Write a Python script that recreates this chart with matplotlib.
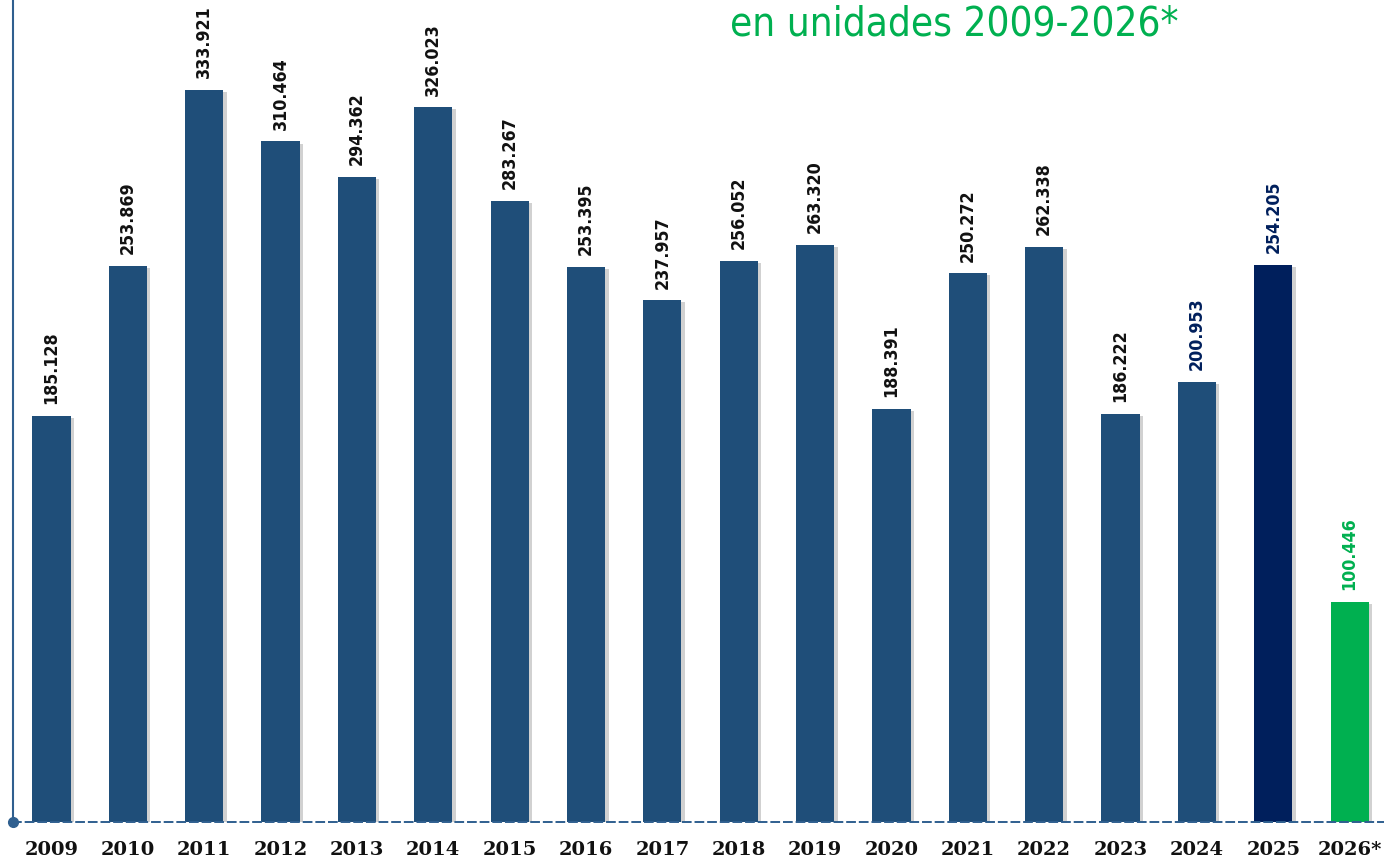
import matplotlib.pyplot as plt
import matplotlib.patheffects as pe

years = ["2009", "2010", "2011", "2012", "2013", "2014", "2015", "2016", "2017",
         "2018", "2019", "2020", "2021", "2022", "2023", "2024", "2025", "2026*"]
units = [185128, 253869, 333921, 310464, 294362, 326023, 283267, 253395, 237957,
         256052, 263320, 188391, 250272, 262338, 186222, 200953, 254205, 100446]

BAR = "#1F4E79"
NAVY = "#001F5C"
GREEN = "#00B050"
LINE = "#2F5F8F"

bar_colors = [BAR] * 16 + [NAVY, GREEN]
label_colors = ["#111111"] * 15 + [NAVY, NAVY, GREEN]

fig = plt.figure(figsize=(13.84, 8.61), dpi=100)
ax = fig.add_axes([12.5 / 1384, 39 / 861, 1371.5 / 1384, 822 / 861])

x = list(range(len(years)))
shadow = [pe.SimplePatchShadow(offset=(2.5, -1.5), shadow_rgbFace="#999999", alpha=0.45),
          pe.Normal()]
bars = ax.bar(x, units, width=0.5, color=bar_colors, zorder=2)
for b in bars:
    b.set_path_effects(shadow)

for xi, v, c in zip(x, units, label_colors):
    label = f"{v:,}".replace(",", ".")
    ax.annotate(label, (xi, v), xytext=(0, 8.5), textcoords="offset points",
                rotation=90, ha="center", va="bottom", fontsize=12.8,
                fontweight="bold", fontstretch="condensed", color=c,
                family="DejaVu Sans")

ax.set_xlim(-0.51, 17.45)
ax.set_ylim(0, 375000)
ax.set_xticks(x)
ax.set_xticklabels(years, fontsize=14, fontweight="bold", family="DejaVu Serif",
                   color="#111111")
ax.tick_params(axis="x", length=0, pad=14)
ax.set_yticks([])

for side in ("top", "right"):
    ax.spines[side].set_visible(False)
ax.spines["left"].set_linestyle((0, (1.2, 1.0)))
ax.spines["left"].set_color(LINE)
ax.spines["left"].set_linewidth(1.5)
ax.spines["bottom"].set_linestyle((0, (4, 2.5)))
ax.spines["bottom"].set_color(LINE)
ax.spines["bottom"].set_linewidth(1.4)
ax.plot([0], [0], marker="o", markersize=7, color=LINE, transform=ax.transAxes,
        clip_on=False, zorder=5)

fig.text(954 / 1384, 1 - 24 / 861, "en unidades 2009-2026*", color=GREEN,
         fontsize=29, ha="center", va="center", family="DejaVu Sans",
         fontstretch="condensed")

fig.savefig("out.png", dpi=100)
